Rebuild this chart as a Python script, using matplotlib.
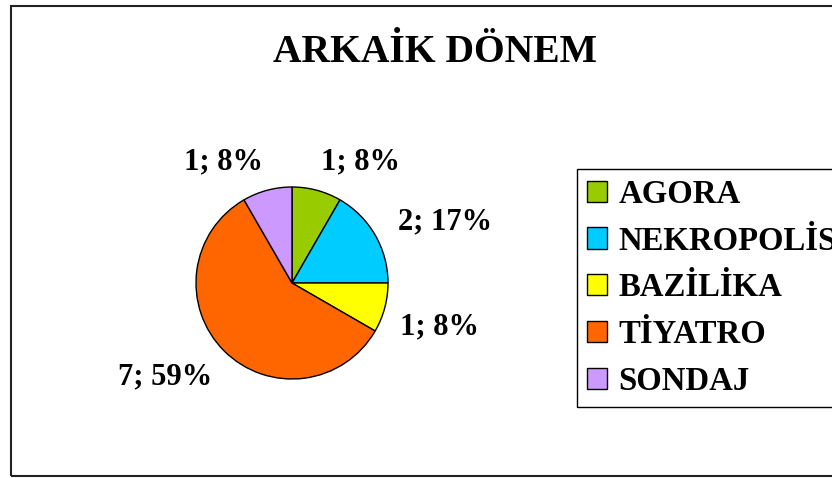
import numpy as np
import matplotlib
matplotlib.use("Agg")
import matplotlib.pyplot as plt
from matplotlib.patches import Patch, Rectangle

# veriler
kategoriler = ['AGORA', 'NEKROPOLİS', 'BAZİLİKA', 'TİYATRO', 'SONDAJ']
degerler = [1, 2, 1, 7, 1]
yuzdeler = [8, 17, 8, 59, 8]
renkler = ['#99CC00', '#00CCFF', '#FFFF00', '#FF6600', '#CC99FF']

plt.rcParams['font.family'] = ['Liberation Serif', 'DejaVu Serif']
plt.rcParams['font.weight'] = 'bold'

W, H = 832, 478
fig = plt.figure(figsize=(W / 100, H / 100), dpi=100)
fig.patch.set_facecolor('white')

# dış çerçeve
fig.add_artist(Rectangle((11 / W, 2 / H), 1.0, 470 / H, transform=fig.transFigure,
                         fill=False, edgecolor='#222222', linewidth=1.5))

fig.text(435 / W, 1 - 62 / H, 'ARKAİK DÖNEM', ha='center', va='baseline',
         fontsize=28.5, fontweight='bold')

# pasta grafiği (merkez 292,283 ; yarıçap 96 piksel)
cx, cy, r = 292, 283, 96
ax = fig.add_axes([(cx - r) / W, (H - cy - r) / H, 2 * r / W, 2 * r / H])
wedges, _ = ax.pie(degerler, colors=renkler, startangle=90, counterclock=False,
                   wedgeprops=dict(edgecolor='black', linewidth=1))
ax.set_xlim(-1, 1)
ax.set_ylim(-1, 1)
ax.set_aspect('equal')
ax.axis('off')

for w, d, y in zip(wedges, degerler, yuzdeler):
    aci = np.deg2rad((w.theta1 + w.theta2) / 2)
    c, s = np.cos(aci), np.sin(aci)
    ha = 'left' if c > 0 else 'right'
    uzak = 1.15
    if s > 0.5:
        va = 'bottom'
    elif s < -0.2:
        va = 'top'
        uzak = 1.17
    else:
        va = 'center'
        uzak = 1.28
    ax.text(uzak * c, uzak * s, f'{d}; {y}%', ha=ha, va=va,
            fontsize=22, fontweight='bold', clip_on=False)

handles = [Patch(facecolor=k, edgecolor='black', linewidth=1) for k in renkler]
leg = fig.legend(handles, kategoriler, loc='upper left',
                 bbox_to_anchor=(577 / W, 1 - 169 / H), bbox_transform=fig.transFigure,
                 prop=dict(family=['Liberation Serif'], weight='bold', size=23.6),
                 frameon=True, fancybox=False, edgecolor='black', framealpha=1,
                 borderaxespad=0, borderpad=0.3, handlelength=0.62, handleheight=0.62,
                 handletextpad=0.34, labelspacing=0.48)
leg.get_frame().set_linewidth(1)

fig.savefig('out.png', dpi=100)
